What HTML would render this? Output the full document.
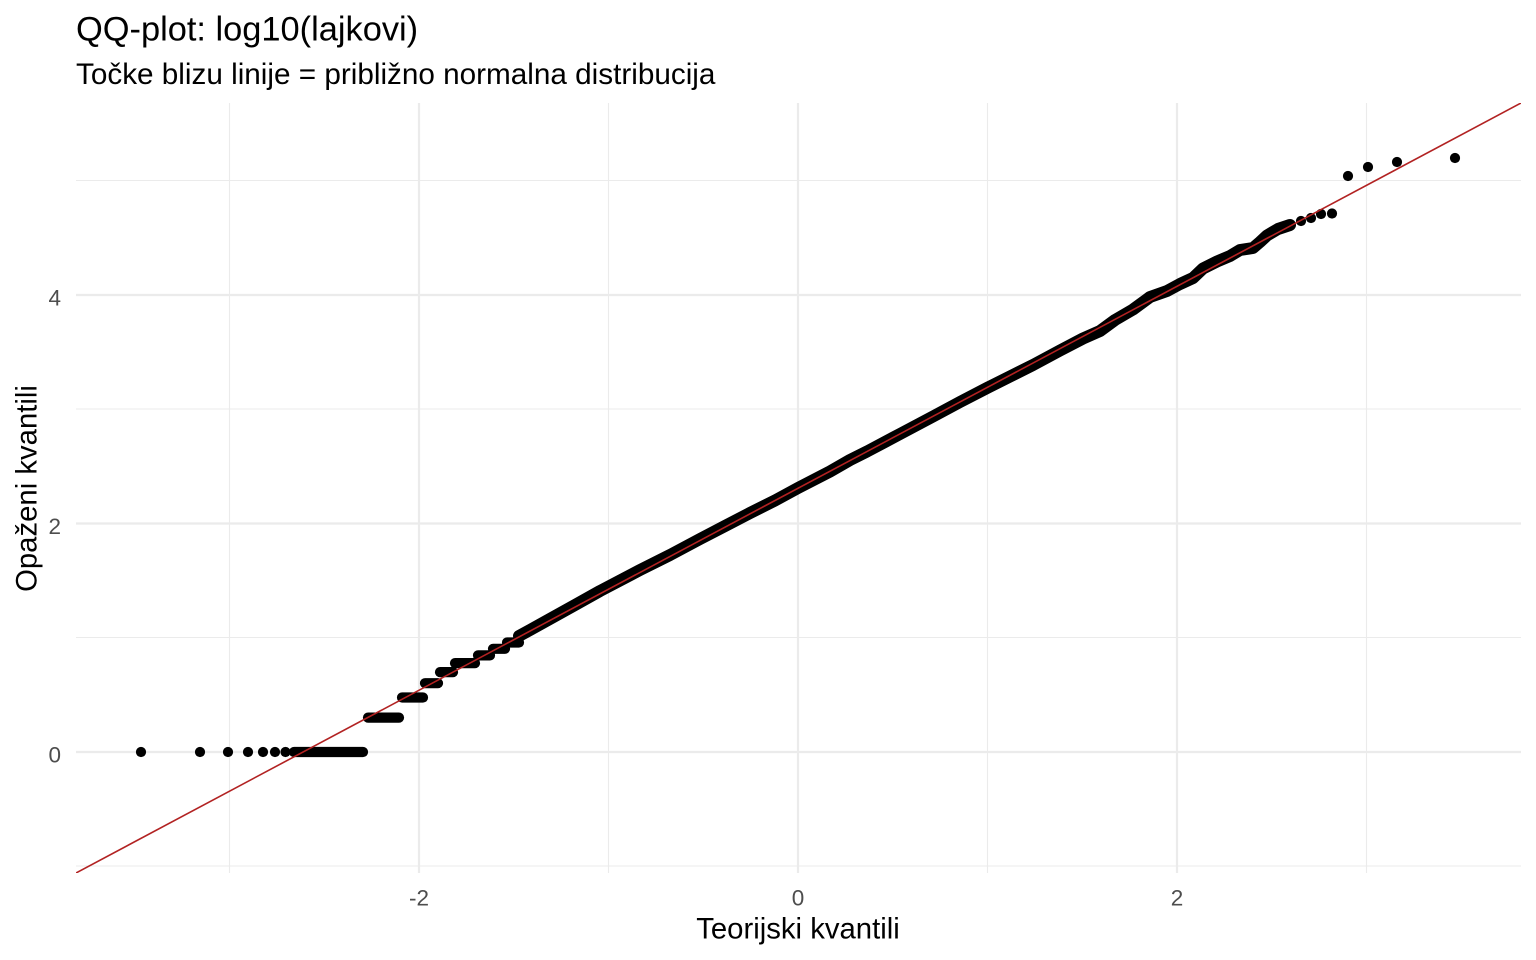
<!DOCTYPE html>
<html>
<head>
<meta charset="utf-8">
<style>
  html, body { margin: 0; padding: 0; background: #ffffff; }
  svg { display: block; }
  text { font-family: "Liberation Sans", Arial, sans-serif; }
</style>
</head>
<body>
<svg width="1536" height="960" viewBox="0 0 1536 960" xmlns="http://www.w3.org/2000/svg">
  <rect x="0" y="0" width="1536" height="960" fill="#ffffff"/>
  <defs>
    <clipPath id="panel"><rect x="76" y="103" width="1445" height="770"/></clipPath>
  </defs>

  <!-- minor grid -->
  <g stroke="#EBEBEB" stroke-width="1.1" fill="none">
    <line x1="76" y1="180.5" x2="1521" y2="180.5"/>
    <line x1="76" y1="409" x2="1521" y2="409"/>
    <line x1="76" y1="637.5" x2="1521" y2="637.5"/>
    <line x1="76" y1="866" x2="1521" y2="866"/>
    <line x1="229.5" y1="103" x2="229.5" y2="873"/>
    <line x1="608.5" y1="103" x2="608.5" y2="873"/>
    <line x1="987.5" y1="103" x2="987.5" y2="873"/>
    <line x1="1366.5" y1="103" x2="1366.5" y2="873"/>
  </g>
  <!-- major grid -->
  <g stroke="#EBEBEB" stroke-width="2.2" fill="none">
    <line x1="76" y1="295" x2="1521" y2="295"/>
    <line x1="76" y1="523.5" x2="1521" y2="523.5"/>
    <line x1="76" y1="752" x2="1521" y2="752"/>
    <line x1="419" y1="103" x2="419" y2="873"/>
    <line x1="798" y1="103" x2="798" y2="873"/>
    <line x1="1177" y1="103" x2="1177" y2="873"/>
  </g>

  <g clip-path="url(#panel)">
    <!-- isolated low-tail points -->
    <g fill="#000">
      <circle cx="141" cy="752" r="5.1"/>
      <circle cx="200" cy="752" r="5.1"/>
      <circle cx="228" cy="752" r="5.1"/>
      <circle cx="248" cy="752" r="5.1"/>
      <circle cx="263" cy="752" r="5.1"/>
      <circle cx="275" cy="752" r="5.1"/>
      <circle cx="285.5" cy="752" r="5.1"/>
    </g>
    <!-- discrete steps -->
    <g stroke="#000" stroke-width="10.2" stroke-linecap="round" fill="none">
      <line x1="294" y1="752" x2="363" y2="752"/>
      <line x1="368" y1="717.6" x2="399" y2="717.6"/>
      <line x1="402" y1="697.5" x2="423" y2="697.5"/>
      <line x1="425" y1="683.2" x2="438" y2="683.2"/>
      <line x1="440" y1="672.1" x2="453" y2="672.1"/>
      <line x1="455" y1="663.1" x2="475" y2="663.1"/>
      <line x1="478" y1="655.4" x2="490" y2="655.4"/>
      <line x1="493" y1="648.8" x2="505" y2="648.8"/>
      <line x1="507" y1="642.5" x2="519" y2="642.5"/>
    </g>
    <!-- dense band -->
    <polyline fill="none" stroke="#000" stroke-width="12" stroke-linecap="round" stroke-linejoin="round"
      points="519,636 530,630 548,620 575,605 600,591 640,570 670,555 700,539 725,526 750,513 775,500.5 798,488 830,471.5 850,460 867,451.5 900,434 933,416.5 960,402 988,387.5 1010,376.5 1033,365 1060,350.5 1083,338.5 1100,331 1115,320 1133,309.5 1150,297 1167,291 1180,284 1193,278 1203,268.5 1217,261.5 1230,256 1240,250 1253,248 1260,242 1267,235.5 1278,229 1290,225"/>
    <!-- upper tail points -->
    <g fill="#000">
      <circle cx="1301" cy="221" r="5.1"/>
      <circle cx="1311" cy="218" r="5.1"/>
      <circle cx="1321" cy="214" r="5.1"/>
      <circle cx="1332" cy="213.5" r="5.1"/>
      <circle cx="1348" cy="176" r="5.1"/>
      <circle cx="1368" cy="167" r="5.1"/>
      <circle cx="1397" cy="162" r="5.1"/>
      <circle cx="1455" cy="158" r="5.1"/>
    </g>
    <!-- reference line -->
    <line x1="76" y1="873" x2="1521" y2="103" stroke="#B22222" stroke-width="1.6"/>
  </g>

  <!-- y tick labels -->
  <g fill="#4D4D4D" font-size="22.5" text-anchor="end">
    <text x="61" y="305.3">4</text>
    <text x="61" y="533.8">2</text>
    <text x="61" y="762.3">0</text>
  </g>
  <!-- x tick labels -->
  <g fill="#4D4D4D" font-size="22.5" text-anchor="middle">
    <text x="419" y="905.5">-2</text>
    <text x="798" y="905.5">0</text>
    <text x="1177" y="905.5">2</text>
  </g>

  <!-- axis titles -->
  <text x="798" y="938.5" font-size="29.3" text-anchor="middle" fill="#000">Teorijski kvantili</text>
  <text transform="translate(36.5,488.5) rotate(-90)" font-size="29.3" text-anchor="middle" fill="#000">Opaženi kvantili</text>

  <!-- titles -->
  <text x="76" y="40.5" font-size="34.4" fill="#000">QQ-plot: log10(lajkovi)</text>
  <text x="76" y="84" font-size="29.7" fill="#000">Točke blizu linije = približno normalna distribucija</text>
</svg>
</body>
</html>
